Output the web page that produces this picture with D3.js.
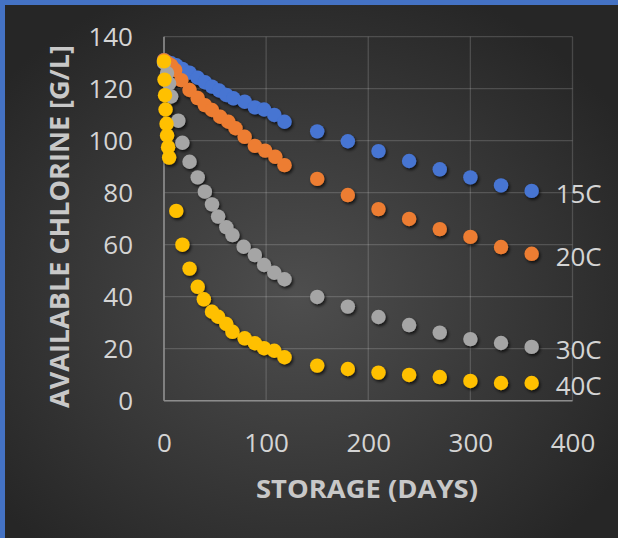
<!DOCTYPE html>
<html>
<head>
<meta charset="utf-8">
<script src="https://cdn.jsdelivr.net/npm/d3@7"></script>
<style>
  html, body { margin: 0; padding: 0; background: #2b2b2b; }
  svg { display: block; }
</style>
</head>
<body>
<script>
// ---- data ----
const days15 = [0, 3, 7, 12, 18, 25, 33, 40, 47, 54, 61, 68, 79, 89, 98, 108, 118, 150, 180, 210, 240, 270, 300, 330, 360];
const chlorine15 = [131, 130.3, 129.8, 129, 127.6, 126.2, 124.2, 122.5, 120.8, 119.3, 117.6, 116.3, 115, 112.8, 112, 109.9, 107.3, 103.6, 99.8, 96.0, 92.2, 89.0, 85.9, 82.8, 80.7];
const days20 = [0, 3, 7, 11, 17, 25, 33, 40, 47, 55, 63, 70, 79, 89, 99, 109, 118, 150, 180, 210, 240, 270, 300, 330, 360];
const chlorine20 = [131, 130, 129, 127.2, 123.3, 119.5, 116.4, 113.7, 111.8, 109.2, 107.3, 104.8, 101.5, 98, 96.2, 93.8, 90.6, 85.3, 79.1, 73.7, 69.9, 66.0, 63.0, 59.1, 56.5];
const days30 = [0, 3, 5, 7, 14, 18, 25, 33, 40, 47, 53, 61, 67, 78, 89, 98, 108, 118, 150, 180, 210, 240, 270, 300, 330, 360];
const chlorine30 = [130, 126, 122, 117, 107.7, 99.2, 91.9, 85.9, 80.4, 75.5, 70.8, 66.7, 63.7, 59.2, 56, 52.2, 49.2, 46.7, 39.9, 36.2, 32.2, 29.1, 26.2, 23.7, 22.2, 20.7];
const days40 = [0, 0.5, 1, 1.5, 2.5, 3, 4, 5, 12, 18, 25, 33, 39, 47, 53, 61, 67, 79, 89, 98, 108, 118, 150, 180, 210, 240, 270, 300, 330, 360];
const chlorine40 = [130.5, 123.5, 117.5, 112, 106.5, 102, 97.5, 93.5, 73, 60, 50.8, 43.8, 39, 34.2, 32.3, 29.5, 26.5, 24, 22.1, 20.2, 19.2, 16.7, 13.5, 12.2, 10.8, 9.9, 9.1, 7.6, 6.8, 6.8];
const seriesNames = ["15C", "20C", "30C", "40C"];
const seriesColors = ["#4674D2", "#ED7D31", "#A5A5A5", "#FFC000"];
const xTicks = [0, 100, 200, 300, 400];
const yTicks = [0, 20, 40, 60, 80, 100, 120, 140];
const xTitle = "STORAGE (DAYS)";
const yTitle = "AVAILABLE CHLORINE [G/L]";

const series = [
  { name: seriesNames[0], color: seriesColors[0], days: days15, vals: chlorine15 },
  { name: seriesNames[1], color: seriesColors[1], days: days20, vals: chlorine20 },
  { name: seriesNames[2], color: seriesColors[2], days: days30, vals: chlorine30 },
  { name: seriesNames[3], color: seriesColors[3], days: days40, vals: chlorine40 }
];

// ---- layout ----
const W = 618, H = 538;
const plot = { left: 164, right: 572.5, top: 36.7, bottom: 400.7 };
const FONT = "'Open Sans', 'Liberation Sans', sans-serif";

const svg = d3.select("body").append("svg").attr("width", W).attr("height", H);
const defs = svg.append("defs");

const bg = defs.append("radialGradient").attr("id", "bg")
  .attr("cx", "48%").attr("cy", "55%").attr("r", "62%");
bg.append("stop").attr("offset", "0%").attr("stop-color", "#4e4e4e");
bg.append("stop").attr("offset", "100%").attr("stop-color", "#262626");

const sh = defs.append("filter").attr("id", "shadow")
  .attr("x", "-50%").attr("y", "-50%").attr("width", "200%").attr("height", "200%");
sh.append("feDropShadow").attr("dx", 1.5).attr("dy", 2).attr("stdDeviation", 1.6)
  .attr("flood-color", "#000").attr("flood-opacity", 0.7);

svg.append("rect").attr("width", W).attr("height", H).attr("fill", "url(#bg)");
// blue frame on top and left
svg.append("rect").attr("x", 0).attr("y", 0).attr("width", W).attr("height", 5).attr("fill", "#4472C4");
svg.append("rect").attr("x", 0).attr("y", 0).attr("width", 5).attr("height", H).attr("fill", "#4472C4");

const x = d3.scaleLinear().domain([0, 400]).range([plot.left, plot.right]);
const y = d3.scaleLinear().domain([0, 140]).range([plot.bottom, plot.top]);

// gridlines
const grid = svg.append("g");
grid.selectAll("line.h").data(yTicks).join("line")
  .attr("x1", plot.left).attr("x2", plot.right)
  .attr("y1", d => y(d)).attr("y2", d => y(d))
  .attr("stroke", "#ffffff").attr("stroke-opacity", 0.16).attr("stroke-width", 1.3);
grid.selectAll("line.v").data(xTicks).join("line")
  .attr("y1", plot.top).attr("y2", plot.bottom)
  .attr("x1", d => x(d)).attr("x2", d => x(d))
  .attr("stroke", "#ffffff").attr("stroke-opacity", 0.16).attr("stroke-width", 1.3);
// axis lines (lighter)
svg.append("line").attr("x1", plot.left).attr("x2", plot.right).attr("y1", plot.bottom).attr("y2", plot.bottom)
  .attr("stroke", "#8c8c8c").attr("stroke-width", 1.6);
svg.append("line").attr("x1", plot.left).attr("x2", plot.left).attr("y1", plot.top).attr("y2", plot.bottom)
  .attr("stroke", "#8c8c8c").attr("stroke-width", 1.6);

// axes
const xAxis = svg.append("g").attr("transform", `translate(0,${plot.bottom})`)
  .call(d3.axisBottom(x).tickValues(xTicks).tickSize(0).tickFormat(d3.format("d")));
xAxis.select(".domain").remove();
xAxis.selectAll("text").attr("y", 42).attr("dy", "0.35em")
  .attr("fill", "#d4d4d4").style("font-family", FONT).style("font-size", "26px");

const yAxis = svg.append("g").attr("transform", `translate(${plot.left},0)`)
  .call(d3.axisLeft(y).tickValues(yTicks).tickSize(0).tickFormat(d3.format("d")));
yAxis.select(".domain").remove();
yAxis.selectAll("text").attr("x", -31).attr("dy", "0.35em")
  .attr("fill", "#d4d4d4").style("font-family", FONT).style("font-size", "26px");

// titles
svg.append("text").attr("x", 367).attr("y", 489).attr("dy", "0.35em")
  .attr("text-anchor", "middle").attr("fill", "#c8c8c8")
  .style("font-family", FONT).style("font-size", "25px").style("font-weight", "bold")
  .attr("textLength", 222).attr("lengthAdjust", "spacingAndGlyphs")
  .text(xTitle);
svg.append("text").attr("transform", "translate(60,226.5) rotate(-90)").attr("dy", "0.35em")
  .attr("text-anchor", "middle").attr("fill", "#c8c8c8")
  .style("font-family", FONT).style("font-size", "26px").style("font-weight", "bold")
  .attr("textLength", 363).attr("lengthAdjust", "spacingAndGlyphs")
  .text(yTitle);

// markers
const marks = svg.append("g").attr("filter", "url(#shadow)");
series.forEach(s => {
  const pts = s.days.map((d, i) => ({ d, v: s.vals[i] }));
  marks.append("g").selectAll("circle").data(pts).join("circle")
    .attr("cx", p => x(p.d)).attr("cy", p => y(p.v)).attr("r", 7.2)
    .attr("fill", s.color);
});

// series labels at last point
series.forEach(s => {
  const n = s.days.length - 1;
  svg.append("text").attr("x", x(s.days[n]) + 24).attr("y", y(s.vals[n]) + 3).attr("dy", "0.35em")
    .attr("fill", "#d4d4d4").style("font-family", FONT).style("font-size", "26px")
    .text(s.name);
});
</script>
</body>
</html>
